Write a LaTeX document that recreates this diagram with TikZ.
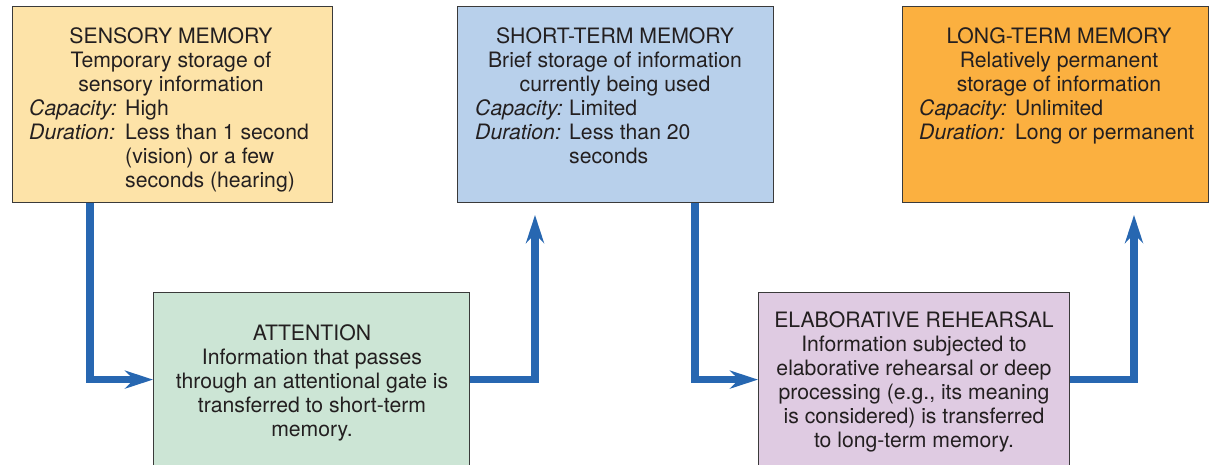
\documentclass[tikz,border=0pt]{standalone}
\usepackage{fontspec}
\setmainfont{TeX Gyre Heros}
\usetikzlibrary{arrows.meta}
\definecolor{sensfill}{HTML}{FDE3A8}
\definecolor{stmfill}{HTML}{B8D0EB}
\definecolor{ltmfill}{HTML}{FBB040}
\definecolor{attfill}{HTML}{CCE5D5}
\definecolor{erfill}{HTML}{DFCBE2}
\definecolor{flowblue}{HTML}{2767B1}
\definecolor{boxline}{HTML}{3A3A3A}
\definecolor{txtcol}{HTML}{231F20}
\begin{document}
\begin{tikzpicture}[x=1pt,y=-1pt,
  box/.style={draw=boxline, line width=1.2pt, inner sep=0pt, anchor=north west},
  txt/.style={inner sep=0pt, font=\fontsize{21.2}{24}\selectfont, text=txtcol, align=center, anchor=base},
  lbl/.style={inner sep=0pt, font=\fontsize{21.2}{24}\selectfont\itshape, text=txtcol, anchor=base west},
  val/.style={inner sep=0pt, font=\fontsize{21.2}{24}\selectfont, text=txtcol, align=left, anchor=base west},
  flow/.style={draw=flowblue, line width=7.5pt, line join=miter, -{Stealth[length=28pt,width=18pt,inset=9pt]}}
]
\useasboundingbox (0,0) rectangle (1210,464);
% boxes
\node[box, fill=sensfill, minimum width=320pt, minimum height=196pt] (sens) at (12,6) {};
\node[box, fill=stmfill, minimum width=316pt, minimum height=196pt] (stm) at (457,6) {};
\node[box, fill=ltmfill, minimum width=306pt, minimum height=196pt] (ltm) at (902,6) {};
\node[box, fill=attfill, minimum width=316pt, minimum height=174pt] (att) at (153,292) {};
\node[box, fill=erfill, minimum width=311pt, minimum height=174pt] (er) at (758,292) {};
% sensory text (anchor = baseline of last line)
\node[txt] (senst) at (171,91) {SENSORY MEMORY\\Temporary storage of\\sensory information};
\node[lbl] (sensc) at (29,115) {Capacity:};
\node[val] (senscv) at (125,115) {High};
\node[lbl] (sensd) at (29,139) {Duration:};
\node[val] (sensdv) at (125,187) {Less than 1 second\\(vision) or a few\\seconds (hearing)};
% STM text
\node[txt] (stmt) at (615,91) {SHORT-TERM MEMORY\\Brief storage of information\\currently being used};
\node[lbl] (stmc) at (475,115) {Capacity:};
\node[val] (stmcv) at (569,115) {Limited};
\node[lbl] (stmd) at (475,139) {Duration:};
\node[val] (stmdv) at (569,163) {Less than 20\\seconds};
% LTM text
\node[txt] (ltmt) at (1059,91) {LONG-TERM MEMORY\\Relatively permanent\\storage of information};
\node[lbl] (ltmc) at (919,115) {Capacity:};
\node[val] (ltmcv) at (1015,115) {Unlimited};
\node[lbl] (ltmd) at (919,139) {Duration:};
\node[val] (ltmdv) at (1015,139) {Long or permanent};
% attention text
\node[txt] (attt) at (312,436) {ATTENTION\\Information that passes\\through an attentional gate is\\transferred to short-term\\memory.};
% ER text
\node[txt] (ert) at (914,447) {ELABORATIVE REHEARSAL\\Information subjected to\\elaborative rehearsal or deep\\processing (e.g., its meaning\\is considered) is transferred\\to long-term memory.};
% connectors
\coordinate (t1) at (535,215);
\coordinate (t2) at (1134,215);
\draw[flow] ([xshift=78pt]sens.south west) |- (att.west);
\draw[flow] (att.east) -| (t1);
\draw[flow] ([xshift=238pt]stm.south west) |- (er.west);
\draw[flow] (er.east) -| (t2);
\end{tikzpicture}
\end{document}
